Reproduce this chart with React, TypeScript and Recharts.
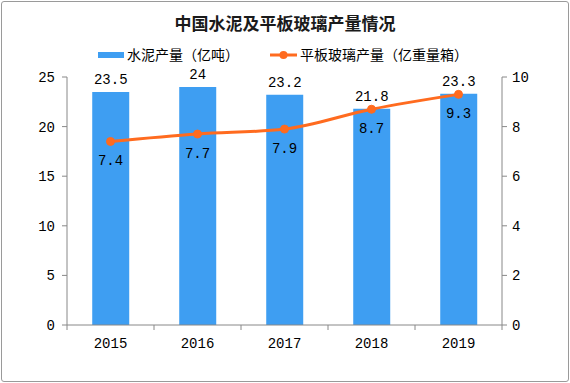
import React from 'react';
import { Bar, ComposedChart, LabelList, Line, XAxis, YAxis } from 'recharts';

const years = ['2015', '2016', '2017', '2018', '2019'];
const cement = [23.5, 24, 23.2, 21.8, 23.3];
const glass = [7.4, 7.7, 7.9, 8.7, 9.3];
const leftTicks = [0, 5, 10, 15, 20, 25];
const rightTicks = [0, 2, 4, 6, 8, 10];

const W = 570;
const H = 383;
const LEFT_W = 67;
const RIGHT_W = 68;
const BAND = (W - LEFT_W - RIGHT_W) / years.length;

const BLUE = '#3E9EF2';
const ORANGE = '#FF6B1F';
const AXIS = '#888888';
const NUM_FONT = '"Liberation Mono", monospace';
const CJK_FONT = '"Noto Sans CJK SC", sans-serif';

const data = years.map((y, i) => ({ year: y, cement: cement[i], glass: glass[i] }));

// category axis: labels at band centers, tick marks at band edges
const YearTick = (props: any) => {
  const { x, y, payload, index } = props;
  const last = index === years.length - 1;
  return (
    <g>
      <line x1={x - BAND / 2} y1={y} x2={x - BAND / 2} y2={y + 5} stroke={AXIS} />
      {last && <line x1={x + BAND / 2} y1={y} x2={x + BAND / 2} y2={y + 5} stroke={AXIS} />}
      <text x={x} y={y + 23} textAnchor="middle" fontSize={14} fontFamily={NUM_FONT} fill="#000">
        {payload.value}
      </text>
    </g>
  );
};

const ChartLegend = () => (
  <svg width={W} height={20} style={{ position: 'absolute', left: 0, top: 45 }}>
    <rect x={98} y={7} width={26} height={6} fill={BLUE} />
    <text x={127} y={15} fontSize={14} fontFamily={CJK_FONT} fill="#000">水泥产量（亿吨）</text>
    <line x1={270} y1={10} x2={297} y2={10} stroke={ORANGE} strokeWidth={3} />
    <circle cx={283.5} cy={10} r={4} fill={ORANGE} />
    <text x={300} y={15} fontSize={14} fontFamily={CJK_FONT} fill="#000">平板玻璃产量（亿重量箱）</text>
  </svg>
);

export default function App() {
  return (
    <div style={{ position: 'absolute', left: 0, top: 0, width: W, height: H, background: '#fff' }}>
      <div
        style={{
          position: 'absolute', left: 1, top: 1, width: W - 4, height: H - 4,
          border: '1px solid #9a9a9a', borderRadius: 3,
        }}
      />
      <div
        style={{
          position: 'absolute', left: 0, top: 11, width: W, textAlign: 'center',
          fontFamily: CJK_FONT, fontWeight: 'bold', fontSize: 17, color: '#1a1a1a', lineHeight: '24px',
        }}
      >
        中国水泥及平板玻璃产量情况
      </div>
      <ChartLegend />
      <ComposedChart
        width={W}
        height={H}
        data={data}
        margin={{ top: 77, right: 0, left: 0, bottom: 28 }}
        barCategoryGap="29%"
        style={{ position: 'absolute', left: 0, top: 0 }}
      >
        <XAxis
          dataKey="year"
          stroke={AXIS}
          tickLine={false}
          tickSize={0}
          tickMargin={0}
          tick={<YearTick />}
          height={30}
        />
        <YAxis
          yAxisId="left"
          domain={[0, 25]}
          ticks={leftTicks}
          width={LEFT_W}
          stroke={AXIS}
          tickSize={5}
          tickMargin={7}
          tick={{ fill: '#000', fontSize: 14, fontFamily: NUM_FONT }}
        />
        <YAxis
          yAxisId="right"
          orientation="right"
          domain={[0, 10]}
          ticks={rightTicks}
          width={RIGHT_W}
          stroke={AXIS}
          tickSize={5}
          tickMargin={5}
          tick={{ fill: '#000', fontSize: 14, fontFamily: NUM_FONT }}
        />
        <Bar yAxisId="left" dataKey="cement" fill={BLUE} isAnimationActive={false}>
          <LabelList
            dataKey="cement"
            position="top"
            offset={8}
            fill="#000"
            fontSize={14}
            fontFamily={NUM_FONT}
          />
        </Bar>
        <Line
          yAxisId="right"
          type="monotone"
          dataKey="glass"
          stroke={ORANGE}
          strokeWidth={3}
          dot={{ r: 4, fill: ORANGE, stroke: ORANGE, strokeWidth: 1 }}
          isAnimationActive={false}
        >
          <LabelList
            dataKey="glass"
            position="bottom"
            offset={14}
            fill="#000"
            fontSize={14}
            fontFamily={NUM_FONT}
          />
        </Line>
      </ComposedChart>
    </div>
  );
}
